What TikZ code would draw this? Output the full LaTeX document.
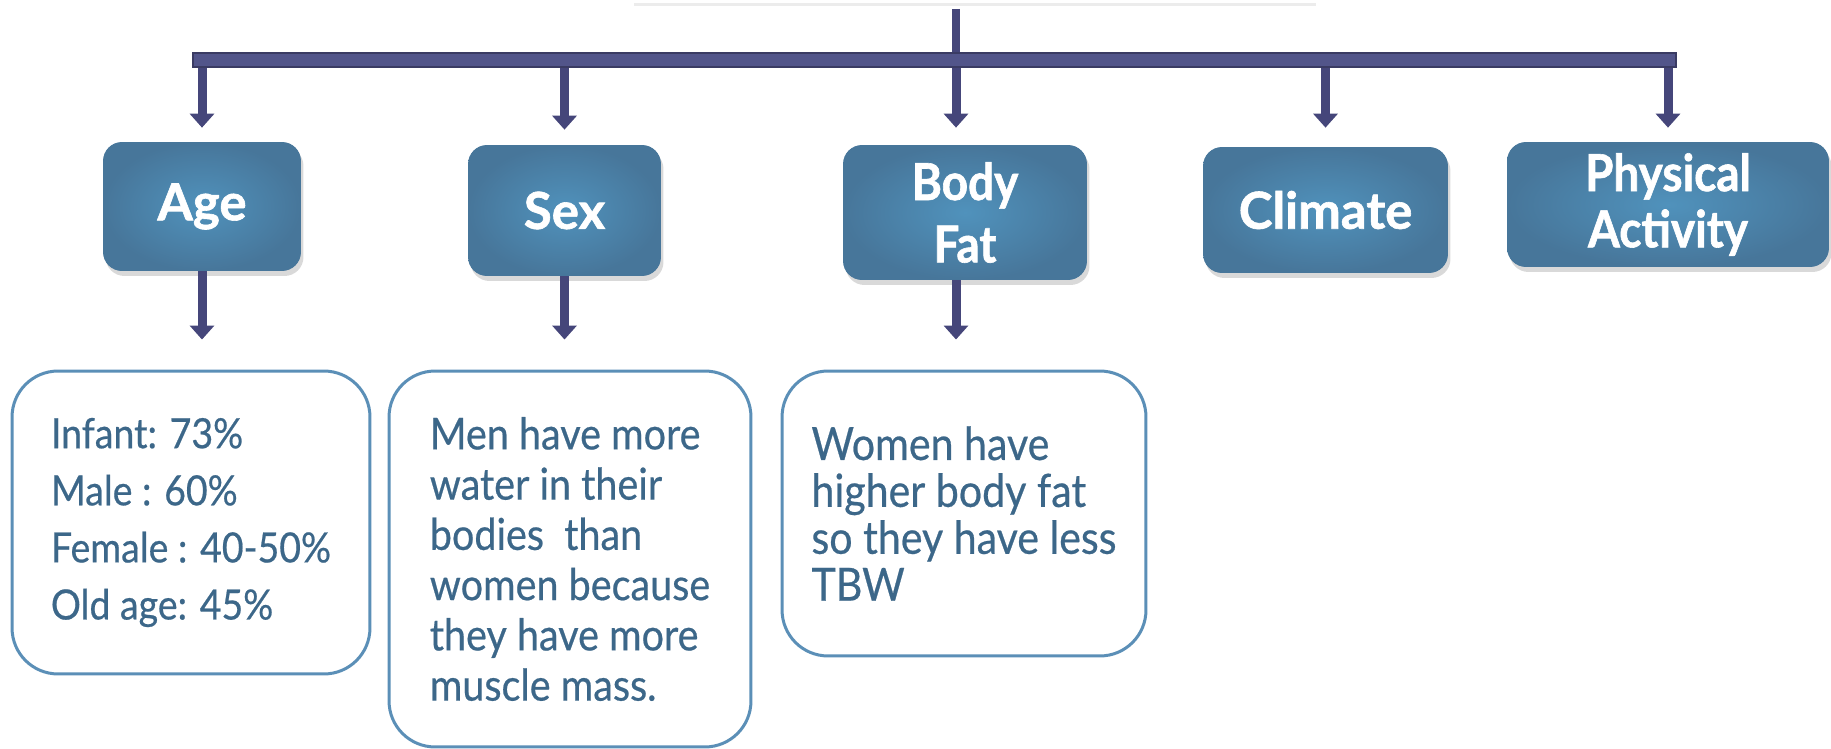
\documentclass[tikz,border=0pt]{standalone}
\usepackage{fontspec}
\setmainfont{Lato}
\newfontfamily\notecond[FakeStretch=0.9, FakeBold=0.5]{Lato}
\newfontfamily\tilefont[BoldFeatures={FakeBold=1.2}]{Lato}
\newfontfamily\tilecond[FakeStretch=0.9, BoldFeatures={FakeBold=1.2}]{Lato}
\usetikzlibrary{arrows.meta,shadows}

\definecolor{tilelight}{HTML}{5092BC}
\definecolor{tiledark}{HTML}{47769A}
\definecolor{noteline}{HTML}{5B8FB7}
\definecolor{notetext}{HTML}{3C6789}
\definecolor{barfill}{HTML}{52558A}
\definecolor{barline}{HTML}{3A3B63}
\definecolor{linkcol}{HTML}{45467A}

\tikzset{
  tile/.style={rounded corners=0.38cm, inner color=tilelight, outer color=tiledark,
    text=white, align=center, font=\tilefont\bfseries\fontsize{29}{31}\selectfont,
    drop shadow={shadow xshift=0.05cm, shadow yshift=-0.1cm, opacity=0.3}},
  note/.style={draw=noteline, line width=0.06cm, fill=white, rounded corners=0.92cm,
    text=notetext, align=left},
  link/.style={linkcol, line width=0.18cm, -{Triangle[width=0.48cm,length=0.28cm]}},
}

\begin{document}
\begin{tikzpicture}[x=0.02cm, y=-0.02cm]
    % --- frame: one unit = one pixel of the reference ---
    \useasboundingbox (0,0) rectangle (1831,749);

    % --- top box (only its lower edge is inside the page) ---
    \begin{scope}
        \clip (0,0) rectangle (1831,749);
        \node[fill=white, minimum width=13.64cm, minimum height=0.9cm,
              drop shadow={shadow xshift=0cm, shadow yshift=-0.06cm, opacity=0.15}]
              (head) at (975,-19.5) {};
    \end{scope}

    % --- stem and cross bar ---
    \coordinate (stem) at (956,9);
    \node[fill=barfill, draw=barline, line width=0.05cm, minimum width=29.66cm,
          minimum height=0.28cm, inner sep=0pt] (bar) at (934.5,60) {};
    \draw[linkcol, line width=0.16cm] (stem) -- (stem |- bar.north);

    % --- factors ---
    \node[tile, minimum width=3.96cm, minimum height=2.58cm] (age)  at (202,206.5)  {Age};
    \node[tile, minimum width=3.86cm, minimum height=2.62cm] (sex)  at (564.5,210.5) {Sex};
    \node[tile, minimum width=4.88cm, minimum height=2.70cm,
          font=\tilecond\bfseries\fontsize{29}{35.5}\selectfont] (fat) at (965,212.5) {Body\\Fat};
    \node[tile, minimum width=4.90cm, minimum height=2.52cm] (clim) at (1325.5,210) {Climate};
    \node[tile, minimum width=6.44cm, minimum height=2.50cm,
          font=\tilecond\bfseries\fontsize{29}{32}\selectfont] (phys) at (1668,204.5) {Physical\\Activity};

    % --- arrows from the bar ---
    \draw[link, shorten >=0.28cm] (bar.south -| age) -- (age.north);
    \draw[link, shorten >=0.3cm] (bar.south -| sex) -- (sex.north);
    \draw[link, shorten >=0.34cm] (bar.south -| stem) -- (fat.north -| stem);
    \draw[link, shorten >=0.38cm] (bar.south -| clim) -- (clim.north);
    \draw[link, shorten >=0.28cm] (bar.south -| phys) -- (phys.north);

    % --- notes ---
    \node[note, minimum width=7.16cm, minimum height=6.06cm,
          font=\notecond\fontsize{23.7}{32.5}\selectfont] (agenote) at (191,522.5)
          {Infant: 73\%\\Male : 60\%\\Female : 40-50\%\\Old age: 45\%};
    \node[note, minimum width=7.24cm, minimum height=7.52cm,
          font=\notecond\fontsize{25}{28.6}\selectfont] (sexnote) at (570,559)
          {Men have more\\water in their\\bodies\ \ than\\women because\\they have more\\muscle mass.};
    \node[note, minimum width=7.28cm, minimum height=5.70cm,
          font=\notecond\fontsize{26}{26.7}\selectfont] (fatnote) at (964,513.5)
          {Women have\\higher body fat\\so they have less\\TBW};

    % --- arrows down to the notes ---
    \draw[link, shorten >=0.6cm] (age.south) -- (age.south |- agenote.north);
    \draw[link, shorten >=0.6cm] (sex.south) -- (sex.south |- sexnote.north);
    \draw[link, shorten >=0.6cm] (fat.south -| stem) -- (fatnote.north -| stem);
\end{tikzpicture}
\end{document}
